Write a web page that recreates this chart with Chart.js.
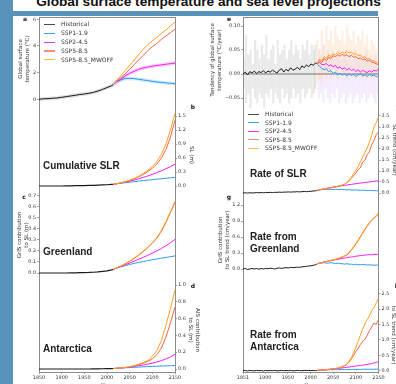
<!DOCTYPE html>
<html>
<head>
<meta charset="utf-8">
<script src="https://cdn.jsdelivr.net/npm/chart.js@4.4.1/dist/chart.umd.min.js"></script>
<style>
  html, body { margin: 0; padding: 0; }
  body { width: 396px; height: 384px; position: relative; overflow: hidden; background: #fff; font-family: 'DejaVu Sans', sans-serif; }
  .band { position: absolute; background: #5993bb; }
  canvas { position: absolute; }
  .txt { position: absolute; white-space: pre; color: #222; }
  .title { font-family: 'Liberation Sans', Arial, sans-serif; font-weight: bold; font-size: 13.7px; line-height: 13.7px; color: #111; }
  .big { font-family: 'Liberation Sans', Arial, sans-serif; font-weight: bold; font-size: 10px; line-height: 12.3px; color: #222; }
  .rot { font-size: 5.5px; line-height: 7px; text-align: center; color: #333; }
  .letter { font-weight: bold; font-size: 6px; line-height: 6px; color: #111; }
  .leg { position: absolute; font-size: 6px; line-height: 6px; color: #333; white-space: pre; }
  .leg span { position: absolute; top: 2.5px; width: 11px; height: 1.3px; }
</style>
</head>
<body>
<div class="band" style="left:0;top:0;width:13px;height:384px"></div>
<div class="band" style="left:0;top:11px;width:378px;height:5px"></div>
<div class="txt title" style="left:208.5px;top:-5.5px;transform:translateX(-50%)">Global surface temperature and sea level projections</div>

<canvas id="left" width="195" height="374" style="left:13px;top:10px"></canvas>
<canvas id="right" width="188" height="374" style="left:208px;top:10px"></canvas>

<script>
// -----------------------------
// Datos
// -----------------------------
const histYears = [1850,1860,1870,1880,1890,1900,1910,1920,1930,1940,1950,1960,1970,1980,1990,2000,2010,2014];
const projYears = [2014,2020,2030,2040,2050,2060,2070,2080,2090,2100,2110,2120,2130,2140,2150];
const rateHistYears = [1851,1856,1861,1866,1871,1876,1881,1886,1891,1896,1901,1906,1911,1916,1921,1926,1931,1936,1941,1946,1951,1956,1961,1966,1971,1976,1981,1986,1991,1996,2001,2006,2011,2014];
const rateProjYears = [2015,2020,2025,2030,2035,2040,2045,2050,2055,2060,2065,2070,2075,2080,2085,2090,2095,2100,2105,2110,2115,2120,2125,2130,2135,2140,2145,2150];

const seriesNames = ['Historical', 'SSP1-1.9', 'SSP2-4.5', 'SSP5-8.5', 'SSP5-8.5_MWOFF'];

// a: temperatura global (°C)
const tempHist  = [0.0,0.04,0.05,0.08,0.1,0.15,0.2,0.25,0.3,0.36,0.4,0.45,0.52,0.62,0.74,0.88,1.02,1.1];
const tempSsp119 = [1.1,1.3,1.45,1.55,1.58,1.55,1.5,1.45,1.4,1.35,1.3,1.27,1.23,1.2,1.17];
const tempSsp245 = [1.1,1.3,1.5,1.75,1.95,2.1,2.25,2.35,2.42,2.48,2.53,2.58,2.63,2.67,2.72];
const tempSsp585 = [1.1,1.3,1.6,1.9,2.25,2.6,2.95,3.3,3.65,3.95,4.2,4.5,4.75,5.0,5.25];
const tempMwoff  = [1.1,1.35,1.75,2.15,2.55,2.95,3.35,3.75,4.1,4.4,4.65,4.95,5.2,5.5,5.8];

// b: SLR acumulado (m)
const slrHist   = [0,0,0,0,0,0,0.002,0.004,0.006,0.008,0.01,0.012,0.015,0.018,0.022,0.027,0.033,0.036];
const slrSsp119 = [0.036,0.045,0.058,0.07,0.082,0.094,0.105,0.116,0.126,0.136,0.146,0.156,0.165,0.175,0.185];
const slrSsp245 = [0.036,0.046,0.063,0.082,0.104,0.128,0.155,0.184,0.216,0.25,0.287,0.327,0.37,0.417,0.467];
const slrSsp585 = [0.036,0.047,0.066,0.09,0.12,0.155,0.198,0.25,0.31,0.38,0.47,0.6,0.78,1.05,1.41];
const slrMwoff  = [0.036,0.047,0.067,0.092,0.124,0.162,0.21,0.267,0.335,0.42,0.53,0.68,0.9,1.2,1.56];

// c: Groenlandia (m)
const grisHist   = [0,0,0,0,0,0,0,0.001,0.002,0.003,0.004,0.005,0.007,0.01,0.014,0.02,0.028,0.033];
const grisSsp119 = [0.033,0.042,0.055,0.066,0.077,0.087,0.096,0.104,0.112,0.12,0.127,0.134,0.141,0.148,0.155];
const grisSsp245 = [0.033,0.043,0.058,0.074,0.09,0.107,0.124,0.142,0.16,0.18,0.2,0.222,0.247,0.274,0.305];
const grisSsp585 = [0.033,0.044,0.061,0.082,0.106,0.132,0.161,0.194,0.23,0.27,0.315,0.378,0.458,0.548,0.64];
const grisMwoff  = [0.033,0.044,0.062,0.084,0.108,0.135,0.165,0.198,0.235,0.275,0.32,0.385,0.465,0.555,0.65];

// d: Antártida (m)
const aisHist   = [0,0,0,0,0,0,0,0,0,0,0,0,0.001,0.002,0.003,0.004,0.005,0.006];
const aisSsp119 = [0.006,0.008,0.011,0.014,0.017,0.02,0.023,0.026,0.029,0.031,0.033,0.035,0.037,0.039,0.041];
const aisSsp245 = [0.006,0.008,0.012,0.017,0.023,0.03,0.038,0.047,0.058,0.07,0.084,0.1,0.12,0.145,0.175];
const aisSsp585 = [0.006,0.008,0.012,0.018,0.026,0.036,0.05,0.068,0.09,0.12,0.17,0.25,0.38,0.55,0.74];
const aisMwoff  = [0.006,0.008,0.013,0.019,0.028,0.04,0.057,0.078,0.1,0.15,0.22,0.34,0.52,0.72,0.94];

// e: tendencia de temperatura (°C/año)
const tendHist   = [0.0,0.004,-0.002,0.005,0.002,0.006,0.001,0.005,0.003,0.007,0.002,0.006,0.004,0.008,0.005,0.002,0.008,0.011,0.004,0.01,0.006,0.013,0.008,0.01,0.014,0.009,0.017,0.013,0.019,0.015,0.021,0.018,0.023,0.022];
const tendSsp119 = [0.02,0.016,0.012,0.009,0.011,0.005,0.007,0.001,0.004,-0.002,0.002,-0.003,0.001,-0.004,0.0,-0.003,-0.001,-0.005,-0.002,0.0,-0.004,-0.002,-0.005,-0.001,-0.004,-0.002,-0.006,-0.003];
const tendSsp245 = [0.022,0.024,0.02,0.019,0.022,0.017,0.019,0.015,0.018,0.012,0.015,0.01,0.013,0.008,0.012,0.007,0.01,0.005,0.009,0.004,0.008,0.005,0.003,0.007,0.004,0.008,0.006,0.01];
const tendSsp585 = [0.022,0.028,0.024,0.032,0.028,0.035,0.032,0.038,0.036,0.04,0.037,0.041,0.038,0.04,0.036,0.039,0.035,0.036,0.032,0.033,0.03,0.031,0.027,0.028,0.025,0.024,0.021,0.02];
const tendMwoff  = [0.024,0.031,0.027,0.036,0.032,0.04,0.036,0.042,0.04,0.045,0.042,0.046,0.043,0.047,0.044,0.046,0.041,0.043,0.038,0.04,0.034,0.036,0.031,0.032,0.028,0.027,0.024,0.022];
const tendHistHi = [0.06,0.03,0.08,0.04,0.05,0.02,0.07,0.05,0.03,0.06,0.04,0.08,0.03,0.05,0.06,0.02,0.07,0.04,0.05,0.06,0.03,0.05,0.07,0.04,0.06,0.05,0.03,0.06,0.05,0.07,0.04,0.06,0.05,0.06];
const tendHistLo = [-0.05,-0.03,-0.06,-0.04,-0.07,-0.03,-0.05,-0.06,-0.04,-0.05,-0.07,-0.04,-0.05,-0.03,-0.06,-0.04,-0.05,-0.06,-0.03,-0.05,-0.04,-0.06,-0.05,-0.03,-0.05,-0.04,-0.06,-0.03,-0.05,-0.04,-0.03,-0.05,-0.04,-0.03];
const tendWarmHi = [0.07,0.05,0.09,0.06,0.1,0.07,0.09,0.06,0.1,0.08,0.07,0.09,0.06,0.1,0.08,0.07,0.09,0.06,0.08,0.07,0.09,0.06,0.08,0.05,0.07,0.06,0.05,0.06];
const tendWarmLo = [-0.02,-0.01,-0.02,0.0,-0.01,0.0,-0.01,0.01,0.0,-0.01,0.01,0.0,0.0,-0.01,0.0,0.01,0.0,-0.01,0.0,0.0,-0.01,0.0,-0.01,0.0,-0.01,-0.01,0.0,-0.01];
const tendCoolHi = [0.05,0.04,0.06,0.03,0.05,0.04,0.05,0.03,0.04,0.05,0.03,0.04,0.05,0.03,0.04,0.03,0.05,0.03,0.04,0.03,0.04,0.05,0.03,0.04,0.03,0.04,0.03,0.04];
const tendCoolLo = [-0.05,-0.04,-0.06,-0.03,-0.05,-0.06,-0.04,-0.05,-0.03,-0.06,-0.05,-0.04,-0.06,-0.05,-0.04,-0.06,-0.05,-0.04,-0.06,-0.05,-0.04,-0.06,-0.05,-0.04,-0.05,-0.06,-0.04,-0.05];
const zeroYears = [1851, 2150];
const zeroLine = [0, 0];

// f: tasa de SLR (cm/año)
const rateHist   = [0.0,0.01,0.0,0.01,0.0,0.01,0.02,0.01,0.02,0.01,0.02,0.02,0.03,0.02,0.03,0.03,0.04,0.03,0.04,0.04,0.05,0.04,0.05,0.05,0.06,0.05,0.06,0.07,0.06,0.07,0.08,0.09,0.1,0.11];
const rateSsp119 = [0.12,0.14,0.15,0.16,0.17,0.16,0.17,0.16,0.17,0.16,0.15,0.16,0.15,0.14,0.15,0.14,0.13,0.14,0.13,0.12,0.13,0.12,0.11,0.12,0.11,0.11,0.1,0.1];
const rateSsp245 = [0.12,0.15,0.17,0.19,0.21,0.23,0.25,0.27,0.28,0.3,0.32,0.33,0.35,0.36,0.38,0.39,0.41,0.42,0.44,0.45,0.46,0.48,0.49,0.5,0.52,0.53,0.54,0.55];
const rateSsp585 = [0.12,0.14,0.16,0.18,0.2,0.22,0.24,0.26,0.28,0.3,0.33,0.36,0.4,0.47,0.56,0.66,0.78,0.9,1.06,1.14,1.4,1.48,1.75,1.88,2.2,2.38,2.65,2.78];
const rateMwoff  = [0.12,0.15,0.17,0.19,0.21,0.22,0.24,0.25,0.27,0.3,0.33,0.36,0.4,0.46,0.58,0.72,0.88,1.03,1.2,1.42,1.62,1.85,2.05,2.3,2.62,3.0,3.2,3.45];

// g: tasa Groenlandia (cm/año)
const grRateHist   = [0.0,0.01,-0.01,0.0,0.01,0.0,0.01,-0.005,0.01,0.0,0.01,0.005,0.015,0.01,0.0,0.015,0.02,0.01,0.02,0.025,0.02,0.03,0.025,0.03,0.035,0.03,0.04,0.045,0.05,0.055,0.06,0.07,0.08,0.09];
const grRateSsp119 = [0.1,0.11,0.11,0.12,0.11,0.11,0.12,0.11,0.1,0.11,0.1,0.1,0.09,0.1,0.09,0.09,0.08,0.09,0.08,0.08,0.085,0.08,0.075,0.08,0.075,0.07,0.075,0.075];
const grRateSsp245 = [0.1,0.11,0.12,0.13,0.14,0.15,0.16,0.17,0.175,0.18,0.19,0.2,0.205,0.21,0.22,0.225,0.23,0.24,0.245,0.25,0.255,0.26,0.265,0.27,0.265,0.275,0.27,0.28];
const grRateSsp585 = [0.1,0.11,0.12,0.13,0.14,0.15,0.16,0.17,0.18,0.19,0.21,0.22,0.24,0.26,0.3,0.35,0.41,0.47,0.53,0.6,0.67,0.74,0.8,0.86,0.91,0.95,0.99,1.03];
const grRateMwoff  = [0.1,0.11,0.12,0.13,0.14,0.15,0.16,0.17,0.18,0.2,0.21,0.23,0.25,0.27,0.31,0.36,0.42,0.48,0.54,0.61,0.68,0.75,0.81,0.87,0.92,0.96,1.0,1.05];

// h: tasa Antártida (cm/año)
const aisRateHist   = [0.0,0.01,-0.01,0.01,0.0,-0.005,0.01,0.0,0.005,-0.01,0.01,0.0,0.005,0.0,0.01,-0.005,0.0,0.01,0.0,0.005,0.0,0.01,-0.005,0.0,0.01,0.005,0.0,0.01,0.005,0.01,0.0,0.01,0.005,0.01];
const aisRateSsp119 = [0.01,0.015,0.02,0.02,0.025,0.03,0.03,0.03,0.035,0.03,0.035,0.04,0.035,0.04,0.04,0.04,0.045,0.04,0.045,0.04,0.045,0.05,0.045,0.05,0.045,0.05,0.05,0.05];
const aisRateSsp245 = [0.01,0.02,0.025,0.03,0.04,0.045,0.05,0.06,0.065,0.07,0.08,0.09,0.1,0.11,0.12,0.13,0.14,0.15,0.16,0.17,0.18,0.19,0.2,0.22,0.23,0.25,0.27,0.29];
const aisRateSsp585 = [0.01,0.015,0.02,0.025,0.03,0.04,0.05,0.06,0.07,0.085,0.1,0.13,0.16,0.2,0.28,0.38,0.5,0.62,0.72,0.85,0.95,1.02,1.15,1.3,1.42,1.55,1.5,1.65];
const aisRateMwoff  = [0.01,0.015,0.02,0.025,0.03,0.04,0.05,0.06,0.07,0.09,0.11,0.14,0.17,0.21,0.3,0.42,0.58,0.76,0.95,1.15,1.35,1.52,1.65,1.78,1.95,2.05,2.2,2.35];

// ticks
const yearTicksLeft  = [1850,1900,1950,2000,2050,2100,2150];
const yearTicksRight = [1851,1900,1950,2000,2050,2100,2150];
const tempTicks = [0,2,4,6];
const slrTicks  = [0,0.3,0.6,0.9,1.2,1.5];
const grisTicks = [0,0.1,0.2,0.3,0.4,0.5,0.6,0.7];
const aisTicks  = [0,0.2,0.4,0.6,0.8,1.0];
const tendTicks = [-0.05,0,0.05,0.1];
const rateTicks = [0,0.5,1,1.5,2,2.5,3,3.5];
const grRateTicks  = [0,0.3,0.6,0.9,1.2];
const aisRateTicks = [0,0.5,1,1.5,2,2.5];

// -----------------------------
// Estilo
// -----------------------------
const COL = { hist: '#1a1a1a', ssp119: '#2b9af3', ssp245: '#f01ef0', ssp585: '#f2634a', mwoff: '#ffa01c' };
const LEG_COL = ['#4a4a4a', '#3aa0f0', '#ee33ee', '#f0907f', '#f5c055'];
const FRAME = '#8c8c8c';
const TICK_FONT = { family: 'DejaVu Sans', size: 4.9 };
const TICK_COLOR = '#333';
const AREA_TOP = 17, AREA_BOTTOM = 372;   // pixeles de página del área de trazado
const LABEL_BOX = 18;                     // ancho reservado a las etiquetas y

function pts(xs, ys) { return ys.map((y, i) => ({ x: xs[i], y })); }

function serie(xs, ys, color, axis, order, width) {
  return { type: 'line', data: pts(xs, ys), borderColor: color, borderWidth: width || 1,
           pointRadius: 0, tension: 0, fill: false, yAxisID: axis, order };
}
function halo(xs, ys, color, axis) {
  return { type: 'line', data: pts(xs, ys), borderColor: color, borderWidth: 3.5,
           pointRadius: 0, tension: 0, fill: false, yAxisID: axis, order: 15 };
}
function spread(xs, lo, hi, color, axis) {
  return { type: 'bar', data: lo.map((l, i) => ({ x: xs[i], y: [l, hi[i]] })), backgroundColor: color,
           borderWidth: 0, barThickness: 1.5, yAxisID: axis, order: 20 };
}

// escala y: valor v0 en la fila p0 y v1 en p1 (pixeles de página)
function yScale(side, v0, p0, v1, p1, ticks, dec, border) {
  const k = (p0 - p1) / (v1 - v0);
  return {
    type: 'linear', position: side,
    min: v0 - (AREA_BOTTOM - p0) / k, max: v1 + (p1 - AREA_TOP) / k,
    afterBuildTicks: s => { s.ticks = ticks.map(v => ({ value: v })); },
    afterFit: s => { s.width = 0; },
    ticks: { font: TICK_FONT, color: TICK_COLOR, padding: 1,
             callback: v => (v < 0 ? '\u2212' : '') + Math.abs(v).toFixed(dec) },
    grid: { drawOnChartArea: false, tickLength: 2, color: FRAME, tickWidth: 0.8 },
    border: { display: border, color: FRAME, width: 1 }
  };
}
function xScale(min, max, ticks) {
  return {
    type: 'linear', position: 'bottom', min, max, offset: false,
    afterBuildTicks: s => { s.ticks = ticks.map(v => ({ value: v })); },
    afterFit: s => { s.height = 10; },
    ticks: { font: TICK_FONT, color: TICK_COLOR, padding: 1, maxRotation: 0, autoSkip: false, callback: v => String(v) },
    grid: { drawOnChartArea: false, tickLength: 2, color: FRAME, tickWidth: 0.8, offset: false },
    border: { color: FRAME, width: 1 }
  };
}
function topScale(min, max) {
  return { type: 'linear', position: 'top', min, max, afterFit: s => { s.height = 0; },
           ticks: { display: false }, grid: { display: false }, border: { color: FRAME, width: 1 } };
}

// los ejes y comparten borde: tras el layout se les devuelve un ancho para que no se recorten las etiquetas
const sharedAxes = {
  id: 'sharedAxes',
  afterLayout(chart) {
    Object.values(chart.scales).forEach(s => {
      if (s.position === 'left') s.left = s.right - LABEL_BOX;
      if (s.position === 'right') s.right = s.left + LABEL_BOX;
    });
  }
};

function baseOptions(padding, scales) {
  return {
    animation: false, responsive: false, maintainAspectRatio: false,
    layout: { padding },
    plugins: { legend: { display: false }, tooltip: { enabled: false } },
    scales
  };
}

// -----------------------------
// Columna izquierda (a-d)
// -----------------------------
new Chart(document.getElementById('left'), {
  type: 'line',
  plugins: [sharedAxes],
  data: { datasets: [
    halo(histYears, tempHist, 'rgba(120,120,120,0.25)', 'ya'),
    halo(projYears, tempSsp119, 'rgba(43,154,243,0.22)', 'ya'),
    halo(projYears, tempSsp245, 'rgba(240,30,240,0.22)', 'ya'),
    serie(histYears, tempHist, COL.hist, 'ya', 5),
    serie(projYears, tempSsp119, COL.ssp119, 'ya', 4),
    serie(projYears, tempSsp245, COL.ssp245, 'ya', 3),
    serie(projYears, tempSsp585, COL.ssp585, 'ya', 2),
    serie(projYears, tempMwoff, COL.mwoff, 'ya', 1),

    serie(histYears, slrHist, COL.hist, 'yb', 5, 1.2),
    serie(projYears, slrSsp119, COL.ssp119, 'yb', 4),
    serie(projYears, slrSsp245, COL.ssp245, 'yb', 3),
    serie(projYears, slrSsp585, COL.ssp585, 'yb', 2),
    serie(projYears, slrMwoff, COL.mwoff, 'yb', 1),

    serie(histYears, grisHist, COL.hist, 'yc', 5, 1.2),
    serie(projYears, grisSsp119, COL.ssp119, 'yc', 4),
    serie(projYears, grisSsp245, COL.ssp245, 'yc', 3),
    serie(projYears, grisSsp585, COL.ssp585, 'yc', 2),
    serie(projYears, grisMwoff, COL.mwoff, 'yc', 1),

    serie(histYears, aisHist, COL.hist, 'yd', 5, 1.2),
    serie(projYears, aisSsp119, COL.ssp119, 'yd', 4),
    serie(projYears, aisSsp245, COL.ssp245, 'yd', 3),
    serie(projYears, aisSsp585, COL.ssp585, 'yd', 2),
    serie(projYears, aisMwoff, COL.mwoff, 'yd', 1)
  ] },
  options: baseOptions({ left: 26, right: 33, top: 7, bottom: 2 }, {
    x: xScale(1850, 2150, yearTicksLeft),
    xTop: topScale(1850, 2150),
    ya: yScale('left', 0, 99.3, 6, 19.3, tempTicks, 0, true),
    yb: yScale('right', 0, 186, 1.5, 116, slrTicks, 1, true),
    yc: yScale('left', 0, 273, 0.7, 195.7, grisTicks, 1, false),
    yd: yScale('right', 0, 369, 1.0, 285, aisTicks, 1, false)
  })
});

// -----------------------------
// Columna derecha (e-h)
// -----------------------------
new Chart(document.getElementById('right'), {
  type: 'line',
  plugins: [sharedAxes],
  data: { datasets: [
    spread(rateHistYears, tendHistLo, tendHistHi, 'rgba(170,170,170,0.26)', 'ye'),
    spread(rateProjYears, tendWarmLo, tendWarmHi, 'rgba(255,190,130,0.24)', 'ye'),
    spread(rateProjYears, tendCoolLo, tendCoolHi, 'rgba(200,160,240,0.2)', 'ye'),
    serie(zeroYears, zeroLine, '#555', 'ye', 6, 0.8),
    serie(rateHistYears, tendHist, COL.hist, 'ye', 5),
    serie(rateProjYears, tendSsp119, COL.ssp119, 'ye', 4),
    serie(rateProjYears, tendSsp245, COL.ssp245, 'ye', 3),
    serie(rateProjYears, tendSsp585, COL.ssp585, 'ye', 2),
    serie(rateProjYears, tendMwoff, COL.mwoff, 'ye', 1),

    serie(rateHistYears, rateHist, COL.hist, 'yf', 5),
    serie(rateProjYears, rateSsp119, COL.ssp119, 'yf', 4),
    serie(rateProjYears, rateSsp245, COL.ssp245, 'yf', 3),
    serie(rateProjYears, rateSsp585, COL.ssp585, 'yf', 2),
    serie(rateProjYears, rateMwoff, COL.mwoff, 'yf', 1),

    serie(rateHistYears, grRateHist, COL.hist, 'yg', 5),
    serie(rateProjYears, grRateSsp119, COL.ssp119, 'yg', 4),
    serie(rateProjYears, grRateSsp245, COL.ssp245, 'yg', 3),
    serie(rateProjYears, grRateSsp585, COL.ssp585, 'yg', 2),
    serie(rateProjYears, grRateMwoff, COL.mwoff, 'yg', 1),

    serie(rateHistYears, aisRateHist, COL.hist, 'yh', 5),
    serie(rateProjYears, aisRateSsp119, COL.ssp119, 'yh', 4),
    serie(rateProjYears, aisRateSsp245, COL.ssp245, 'yh', 3),
    serie(rateProjYears, aisRateSsp585, COL.ssp585, 'yh', 2),
    serie(rateProjYears, aisRateMwoff, COL.mwoff, 'yh', 1)
  ] },
  options: baseOptions({ left: 35, right: 17.5, top: 7, bottom: 2 }, {
    x: xScale(1851, 2150, yearTicksRight),
    xTop: topScale(1851, 2150),
    ye: yScale('left', 0, 74, 0.1, 26, tendTicks, 2, true),
    yf: yScale('right', 0, 193, 3.5, 116, rateTicks, 1, true),
    yg: yScale('left', 0, 269, 1.2, 205, grRateTicks, 1, false),
    yh: yScale('right', 0, 370.7, 2.5, 293.7, aisRateTicks, 1, false)
  })
});

// -----------------------------
// Textos, leyendas y rótulos
// -----------------------------
function addText(cls, text, x, y, rot, center) {
  const d = document.createElement('div');
  d.className = 'txt ' + cls;
  d.textContent = text;
  d.style.left = x + 'px';
  d.style.top = y + 'px';
  if (rot !== undefined) d.style.transform = `translate(-50%,-50%) rotate(${rot}deg)`;
  else if (center) d.style.transform = 'translate(-50%,-50%)';
  document.body.appendChild(d);
}
function addLegend(x, y, step) {
  seriesNames.forEach((name, i) => {
    const d = document.createElement('div');
    d.className = 'leg';
    d.style.left = x + 'px';
    d.style.top = (y + i * step - 3) + 'px';
    d.innerHTML = `<span style="left:0;background:${LEG_COL[i]}"></span><b style="font-weight:normal;margin-left:17px">${name}</b>`;
    document.body.appendChild(d);
  });
}

// letras de panel
[['a', 25, 19], ['b', 193, 107], ['c', 24, 197], ['d', 193, 286],
 ['e', 229, 19], ['f', 397, 107], ['g', 229, 197], ['h', 397, 286]]
  .forEach(([t, x, y]) => addText('letter', t, x, y, undefined, true));

// rótulos grandes
addText('big', 'Cumulative SLR', 43, 160);
addText('big', 'Greenland', 43, 246);
addText('big', 'Antarctica', 43, 343);
addText('big', 'Rate of SLR', 250, 168);
addText('big', 'Rate from\nGreenland', 250, 230.5);
addText('big', 'Rate from\nAntarctica', 250, 329);

// títulos de ejes
addText('rot', 'Global surface\ntemperature (°C)', 24, 58.5, -90);
addText('rot', 'GrIS contribution\nto SL (m)', 23, 235, -90);
addText('rot', 'SL (m)', 190.5, 155, 90);
addText('rot', 'AIS contribution\nto SL (m)', 194, 330, 90);
addText('rot', 'Tendency of global surface\ntemperature (°C/year)', 215.5, 60, -90);
addText('rot', 'GrIS contribution\nto SL trend (cm/year)', 224, 240, -90);
addText('rot', 'SL trend (cm/year)', 393.5, 150, 90);
addText('rot', 'AIS contribution\nto SL trend (cm/year)', 397, 335, 90);
addText('rot', 'Year', 107, 385, 0);
addText('rot', 'Year', 310.5, 385, 0);

addLegend(44, 24.3, 8.85);
addLegend(248, 114, 8.5);
</script>
</body>
</html>
